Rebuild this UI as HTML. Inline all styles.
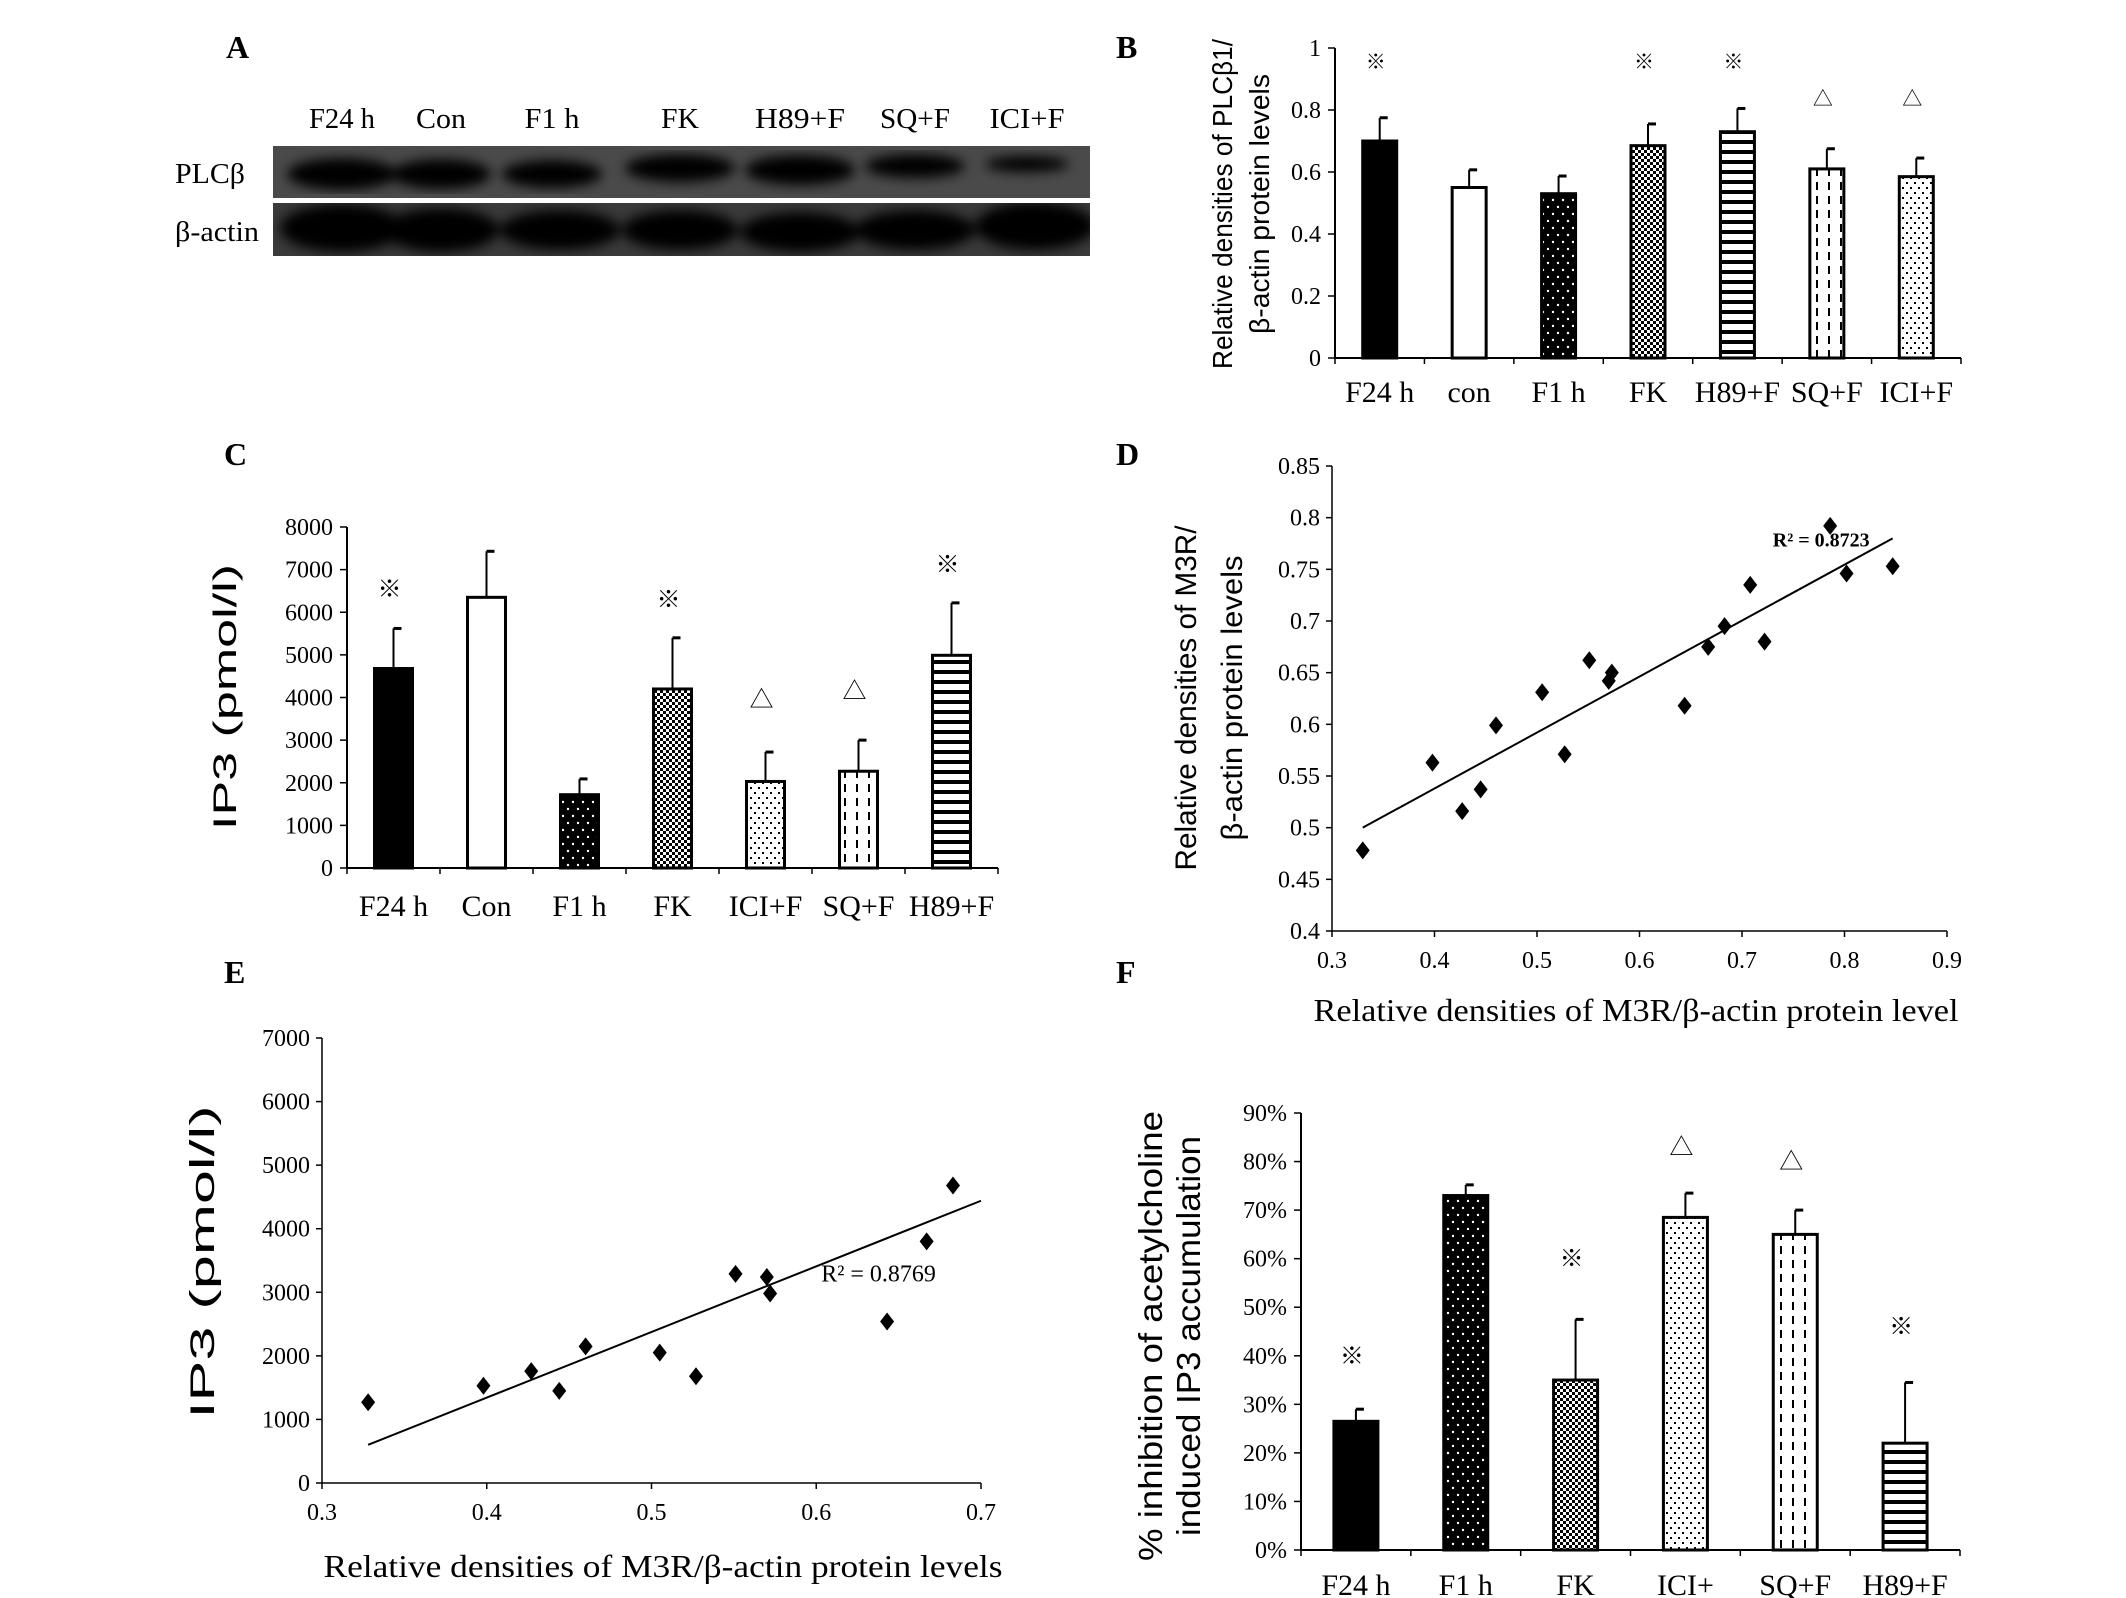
<!DOCTYPE html>
<html><head><meta charset="utf-8"><style>
body{margin:0;background:#fff}
svg{display:block;font-family:"Liberation Serif",serif}
</style></head><body>
<svg id="fig" width="2126" height="1598" viewBox="0 0 2126 1598" xmlns="http://www.w3.org/2000/svg">
<defs>
<pattern id="p-dots-black" width="10" height="14" patternUnits="userSpaceOnUse"><rect width="10" height="14" fill="#000"/><circle cx="3" cy="4" r="1.2" fill="#fff"/><circle cx="8" cy="11" r="1.2" fill="#fff"/></pattern>
<pattern id="p-fine" width="6" height="6" patternUnits="userSpaceOnUse"><rect width="6" height="6" fill="#fff"/><rect x="0" y="0" width="3" height="3" fill="#000"/><rect x="3" y="3" width="3" height="3" fill="#000"/></pattern>
<pattern id="p-hstripe" width="10" height="10" patternUnits="userSpaceOnUse"><rect width="10" height="10" fill="#fff"/><rect y="0" width="10" height="4" fill="#000"/></pattern>
<pattern id="p-vdash" width="12" height="14" patternUnits="userSpaceOnUse"><rect width="12" height="14" fill="#fff"/><rect x="4" y="0" width="2" height="8" fill="#000"/></pattern>
<pattern id="p-sparse" width="8" height="10" patternUnits="userSpaceOnUse"><rect width="8" height="10" fill="#fff"/><rect x="2" y="2" width="2" height="2" fill="#000"/><rect x="6" y="7" width="2" height="2" fill="#000"/></pattern>
<filter id="blur"><feGaussianBlur stdDeviation="6"/></filter>
<clipPath id="clip1"><rect x="273" y="146" width="817" height="52"/></clipPath>
<clipPath id="clip2"><rect x="273" y="203" width="817" height="53"/></clipPath>
</defs>

<text x="226" y="58" font-size="32" font-weight="bold">A</text>
<g font-size="28">
<text x="342" y="128" text-anchor="middle" textLength="66" lengthAdjust="spacingAndGlyphs">F24 h</text>
<text x="441" y="128" text-anchor="middle" textLength="50" lengthAdjust="spacingAndGlyphs">Con</text>
<text x="552" y="128" text-anchor="middle" textLength="55" lengthAdjust="spacingAndGlyphs">F1 h</text>
<text x="680" y="128" text-anchor="middle" textLength="38" lengthAdjust="spacingAndGlyphs">FK</text>
<text x="800" y="128" text-anchor="middle" textLength="90" lengthAdjust="spacingAndGlyphs">H89+F</text>
<text x="915" y="128" text-anchor="middle" textLength="70" lengthAdjust="spacingAndGlyphs">SQ+F</text>
<text x="1027" y="128" text-anchor="middle" textLength="75" lengthAdjust="spacingAndGlyphs">ICI+F</text>
</g>
<text x="175" y="183" font-size="28" textLength="70" lengthAdjust="spacingAndGlyphs">PLCβ</text>
<text x="175" y="241" font-size="28" textLength="84" lengthAdjust="spacingAndGlyphs">β-actin</text>
<g>
<rect x="273" y="146" width="817" height="52" fill="#4a4a4a"/>
<g filter="url(#blur)" fill="#000" clip-path="url(#clip1)">
<ellipse cx="342" cy="174" rx="55" ry="16"/><ellipse cx="441" cy="174" rx="50" ry="15"/><ellipse cx="552" cy="174" rx="50" ry="14"/>
<ellipse cx="680" cy="168" rx="55" ry="14"/><ellipse cx="800" cy="170" rx="55" ry="15"/><ellipse cx="915" cy="166" rx="50" ry="12"/><ellipse cx="1027" cy="164" rx="42" ry="8"/>
</g></g>
<g>
<rect x="273" y="203" width="817" height="53" fill="#3a3a3a"/>
<g filter="url(#blur)" fill="#000" clip-path="url(#clip2)">
<ellipse cx="342" cy="228" rx="62" ry="24"/><ellipse cx="441" cy="230" rx="58" ry="22"/><ellipse cx="560" cy="230" rx="60" ry="20"/>
<ellipse cx="680" cy="230" rx="58" ry="20"/><ellipse cx="800" cy="232" rx="60" ry="20"/><ellipse cx="915" cy="230" rx="60" ry="20"/><ellipse cx="1035" cy="226" rx="60" ry="24"/>
</g></g>

<text x="1116" y="58" font-size="32" font-weight="bold">B</text>
<text x="224" y="465" font-size="32" font-weight="bold">C</text>
<text x="1116" y="465" font-size="32" font-weight="bold">D</text>
<text x="224" y="983" font-size="32" font-weight="bold">E</text>
<text x="1116" y="983" font-size="32" font-weight="bold">F</text>
<g id="charts"></g>
</svg>
<script>
// Panel B data
const bCats = ["F24 h","con","F1 h","FK","H89+F","SQ+F","ICI+F"];
const bVals = [0.70,0.55,0.53,0.685,0.73,0.61,0.585];
const bErr = [0.075,0.057,0.057,0.07,0.075,0.065,0.06];
const bMarks = ["※","","","※","※","△","△"];
const bMarkVals = [0.96,0,0,0.96,0.96,0.84,0.84];
const bTicks = [0,0.2,0.4,0.6,0.8,1];
const bTickLabels = ["0","0.2","0.4","0.6","0.8","1"];
// Panel C data
const cCats = ["F24 h","Con","F1 h","FK","ICI+F","SQ+F","H89+F"];
const cVals = [4680,6350,1720,4200,2030,2270,4990];
const cErr = [940,1080,370,1200,690,730,1230];
const cMarks = ["※","","","※","△","△","※"];
const cMarkVals = [6550,0,0,6300,3950,4150,7120];
const cTicks = [0,1000,2000,3000,4000,5000,6000,7000,8000];
// Panel D data
const dX = [0.33,0.398,0.427,0.445,0.46,0.505,0.527,0.551,0.57,0.573,0.644,0.667,0.683,0.708,0.722,0.786,0.802,0.847];
const dY = [0.478,0.563,0.516,0.537,0.599,0.631,0.571,0.662,0.642,0.65,0.618,0.675,0.695,0.735,0.68,0.792,0.746,0.753];
const dFitX = [0.33,0.847];
const dFitY = [0.5,0.78];
const dXTicks = [0.3,0.4,0.5,0.6,0.7,0.8,0.9];
const dYTicks = [0.4,0.45,0.5,0.55,0.6,0.65,0.7,0.75,0.8,0.85];
// Panel E data
const eX = [0.328,0.398,0.427,0.444,0.46,0.505,0.527,0.551,0.57,0.572,0.643,0.667,0.683];
const eY = [1270,1530,1760,1450,2150,2050,1680,3290,3240,2980,2540,3800,4680];
const eFitX = [0.328,0.7];
const eFitY = [600,4440];
const eXTicks = [0.3,0.4,0.5,0.6,0.7];
const eYTicks = [0,1000,2000,3000,4000,5000,6000,7000];
// Panel F data
const fCats = ["F24 h","F1 h","FK","ICI+","SQ+F","H89+F"];
const fVals = [26.5,73,35,68.5,65,22];
const fErr = [2.5,2.2,12.5,5,5,12.5];
const fMarks = ["※","","※","△","△","※"];
const fMarkVals = [40,0,60,83,80,46];
const fTicks = [0,10,20,30,40,50,60,70,80,90];

const NS="http://www.w3.org/2000/svg";
const root=document.getElementById('charts');
function mk(tag,attrs,parent,text){const e=document.createElementNS(NS,tag);for(const k in attrs)e.setAttribute(k,attrs[k]);if(text!==undefined)e.textContent=text;(parent||root).appendChild(e);return e;}
function lin(d0,d1,r0,r1){return v=>r0+(v-d0)/(d1-d0)*(r1-r0);}
function addTitle(g,o){
  const t=mk('text',{transform:`translate(${o.titleX},${o.titleY}) rotate(-90)`,'text-anchor':'middle','font-size':o.titleFs,'font-family':o.titleFont||'"Liberation Serif",serif'},g);
  
  
  o.title.forEach((ln,i)=>{
    const a={x:0,dy:i?o.titleGap:0};
    if(o.titleLens&&o.titleLens[i]){a.textLength=o.titleLens[i];a.lengthAdjust='spacingAndGlyphs';}
    mk('tspan',a,t,ln);
  });
}

function barChart(o){
  const g=mk('g',{});
  
  
  const y=lin(o.min,o.max,o.y0,o.y1);
  mk('line',{x1:o.x0,y1:o.y0,x2:o.x0,y2:o.y1,stroke:'#000','stroke-width':2},g);
  mk('line',{x1:o.x0,y1:o.y0,x2:o.x1,y2:o.y0,stroke:'#000','stroke-width':2},g);
  o.ticks.forEach((t,i)=>{
    const ty=y(t);
    mk('line',{x1:o.x0-7,y1:ty,x2:o.x0,y2:ty,stroke:'#000','stroke-width':1.5},g);
    const tl=mk('text',{x:o.x0-14,y:ty+8,'text-anchor':'end','font-size':o.tfs},g,o.tickLabels[i]);
    
    
  });
  const step=(o.x1-o.x0)/o.cats.length;
  for(let k=0;k<=o.cats.length;k++) mk('line',{x1:o.x0+k*step,y1:o.y0,x2:o.x0+k*step,y2:o.y0+6,stroke:'#000','stroke-width':1.5},g);
  o.cats.forEach((c,i)=>{
    const cx=o.x0+step*(i+0.5);
    const top=y(o.vals[i]), et=y(o.vals[i]+o.err[i]);
    mk('line',{x1:cx,y1:top,x2:cx,y2:et,stroke:'#000','stroke-width':2},g);
    mk('line',{x1:cx,y1:et,x2:cx+8,y2:et,stroke:'#000','stroke-width':3},g);
    const b=mk('rect',{x:cx-o.bw/2,y:top,width:o.bw,height:o.y0-top,fill:o.fills[i],stroke:'#000','stroke-width':3},g);
    
    
    const cl=mk('text',{x:cx,y:o.labY,'text-anchor':'middle','font-size':o.cfs},g,c);
    
    
    if(o.marks[i]){
      const m=mk('text',{x:cx-4,y:y(o.markVals[i])+8,'text-anchor':'middle','font-size':o.mfs,'font-family':'"Liberation Sans","Noto Sans CJK SC",sans-serif'},g,o.marks[i]);
      
      
    }
  });
  addTitle(g,o);
}

function scatter(o){
  const g=mk('g',{});
  
  
  const x=lin(o.xmin,o.xmax,o.x0,o.x1), y=lin(o.ymin,o.ymax,o.y0,o.y1);
  mk('line',{x1:o.x0,y1:o.y0,x2:o.x0,y2:o.y1,stroke:'#000','stroke-width':1.5},g);
  mk('line',{x1:o.x0,y1:o.y0,x2:o.x1,y2:o.y0,stroke:'#000','stroke-width':1.5},g);
  o.yTicks.forEach(t=>{
    mk('line',{x1:o.x0-6,y1:y(t),x2:o.x0,y2:y(t),stroke:'#000','stroke-width':1.5},g);
    const tl=mk('text',{x:o.x0-12,y:y(t)+8,'text-anchor':'end','font-size':o.tfs},g,String(t));
    
    
  });
  o.xTicks.forEach(t=>{
    mk('line',{x1:x(t),y1:o.y0,x2:x(t),y2:o.y0+6,stroke:'#000','stroke-width':1.5},g);
    const tl=mk('text',{x:x(t),y:o.xlabY,'text-anchor':'middle','font-size':o.tfs},g,String(t));
    
    
  });
  const fl=mk('line',{x1:x(o.fitX[0]),y1:y(o.fitY[0]),x2:x(o.fitX[1]),y2:y(o.fitY[1]),stroke:'#000','stroke-width':2},g);
  
  
  o.xs.forEach((v,i)=>{
    const px=x(v),py=y(o.ys[i]);
    const p=mk('path',{d:`M${px} ${py-9}L${px+7} ${py}L${px} ${py+9}L${px-7} ${py}Z`,fill:'#000'},g);
    
    
  });
  const r=mk('text',{x:x(o.rX),y:y(o.rY),'font-size':o.rfs,'font-weight':o.rBold?'bold':'normal'},g,o.rText);
  
  
  const xt=mk('text',{x:o.xtX,y:o.xtY,'text-anchor':'middle','font-size':o.xtFs,textLength:o.xtLen,lengthAdjust:'spacingAndGlyphs'},g,o.xTitle);
  
  
  addTitle(g,o);
}

const SANS='"Liberation Sans",sans-serif';
barChart({name:'chart-b',cats:bCats,vals:bVals,err:bErr,marks:bMarks,markVals:bMarkVals,ticks:bTicks,tickLabels:bTickLabels,
 min:0,max:1,x0:1335,x1:1961,y0:358,y1:48,bw:34,tfs:24,cfs:30,mfs:20,labY:402,
 fills:['#000','#fff','url(#p-dots-black)','url(#p-fine)','url(#p-hstripe)','url(#p-vdash)','url(#p-sparse)'],
 title:['Relative densities of PLCβ1/','β-actin protein levels'],titleLens:[330,260],titleGap:37,titleX:1232,titleY:204,titleFs:28,titleFont:SANS});
barChart({name:'chart-c',cats:cCats,vals:cVals,err:cErr,marks:cMarks,markVals:cMarkVals,ticks:cTicks,tickLabels:cTicks.map(String),
 min:0,max:8000,x0:347,x1:998,y0:868,y1:527,bw:38,tfs:24,cfs:30,mfs:24,labY:916,
 fills:['#000','#fff','url(#p-dots-black)','url(#p-fine)','url(#p-sparse)','url(#p-vdash)','url(#p-hstripe)'],
 title:['IP3 (pmol/l)'],titleLens:[266],titleGap:0,titleX:236,titleY:697,titleFs:32,titleFont:SANS});
barChart({name:'chart-f',cats:fCats,vals:fVals,err:fErr,marks:fMarks,markVals:fMarkVals,ticks:fTicks,tickLabels:fTicks.map(v=>v+'%'),
 min:0,max:90,x0:1301,x1:1960,y0:1550,y1:1113,bw:44,tfs:24,cfs:30,mfs:24,labY:1595,
 fills:['#000','url(#p-dots-black)','url(#p-fine)','url(#p-sparse)','url(#p-vdash)','url(#p-hstripe)'],
 title:['% inhibition of acetylcholine','induced  IP3 accumulation'],titleLens:[450,400],titleGap:38,titleX:1162,titleY:1336,titleFs:33,titleFont:SANS});
scatter({name:'chart-d',xs:dX,ys:dY,fitX:dFitX,fitY:dFitY,xTicks:dXTicks,yTicks:dYTicks,
 xmin:0.3,xmax:0.9,ymin:0.4,ymax:0.85,x0:1332,x1:1947,y0:931,y1:466,tfs:24,xlabY:968,
 rX:0.73,rY:0.772,rText:'R² = 0.8723',rBold:true,rfs:20,
 xTitle:'Relative densities of M3R/β-actin protein level',xtX:1636,xtY:1021,xtFs:32,xtLen:645,
 title:['Relative densities of M3R/','β-actin protein levels'],titleLens:[345,285],titleGap:46,titleX:1196,titleY:698,titleFs:30,titleFont:SANS});
scatter({name:'chart-e',xs:eX,ys:eY,fitX:eFitX,fitY:eFitY,xTicks:eXTicks,yTicks:eYTicks,
 xmin:0.3,xmax:0.7,ymin:0,ymax:7000,x0:322,x1:981,y0:1483,y1:1038,tfs:24,xlabY:1520,
 rX:0.603,rY:3170,rText:'R² = 0.8769',rBold:false,rfs:24,
 xTitle:'Relative densities of M3R/β-actin protein levels',xtX:663,xtY:1577,xtFs:32,xtLen:679,
 title:['IP3 (pmol/l)'],titleLens:[313],titleGap:0,titleX:214,titleY:1262,titleFs:34,titleFont:SANS});
</script>
</body></html>
